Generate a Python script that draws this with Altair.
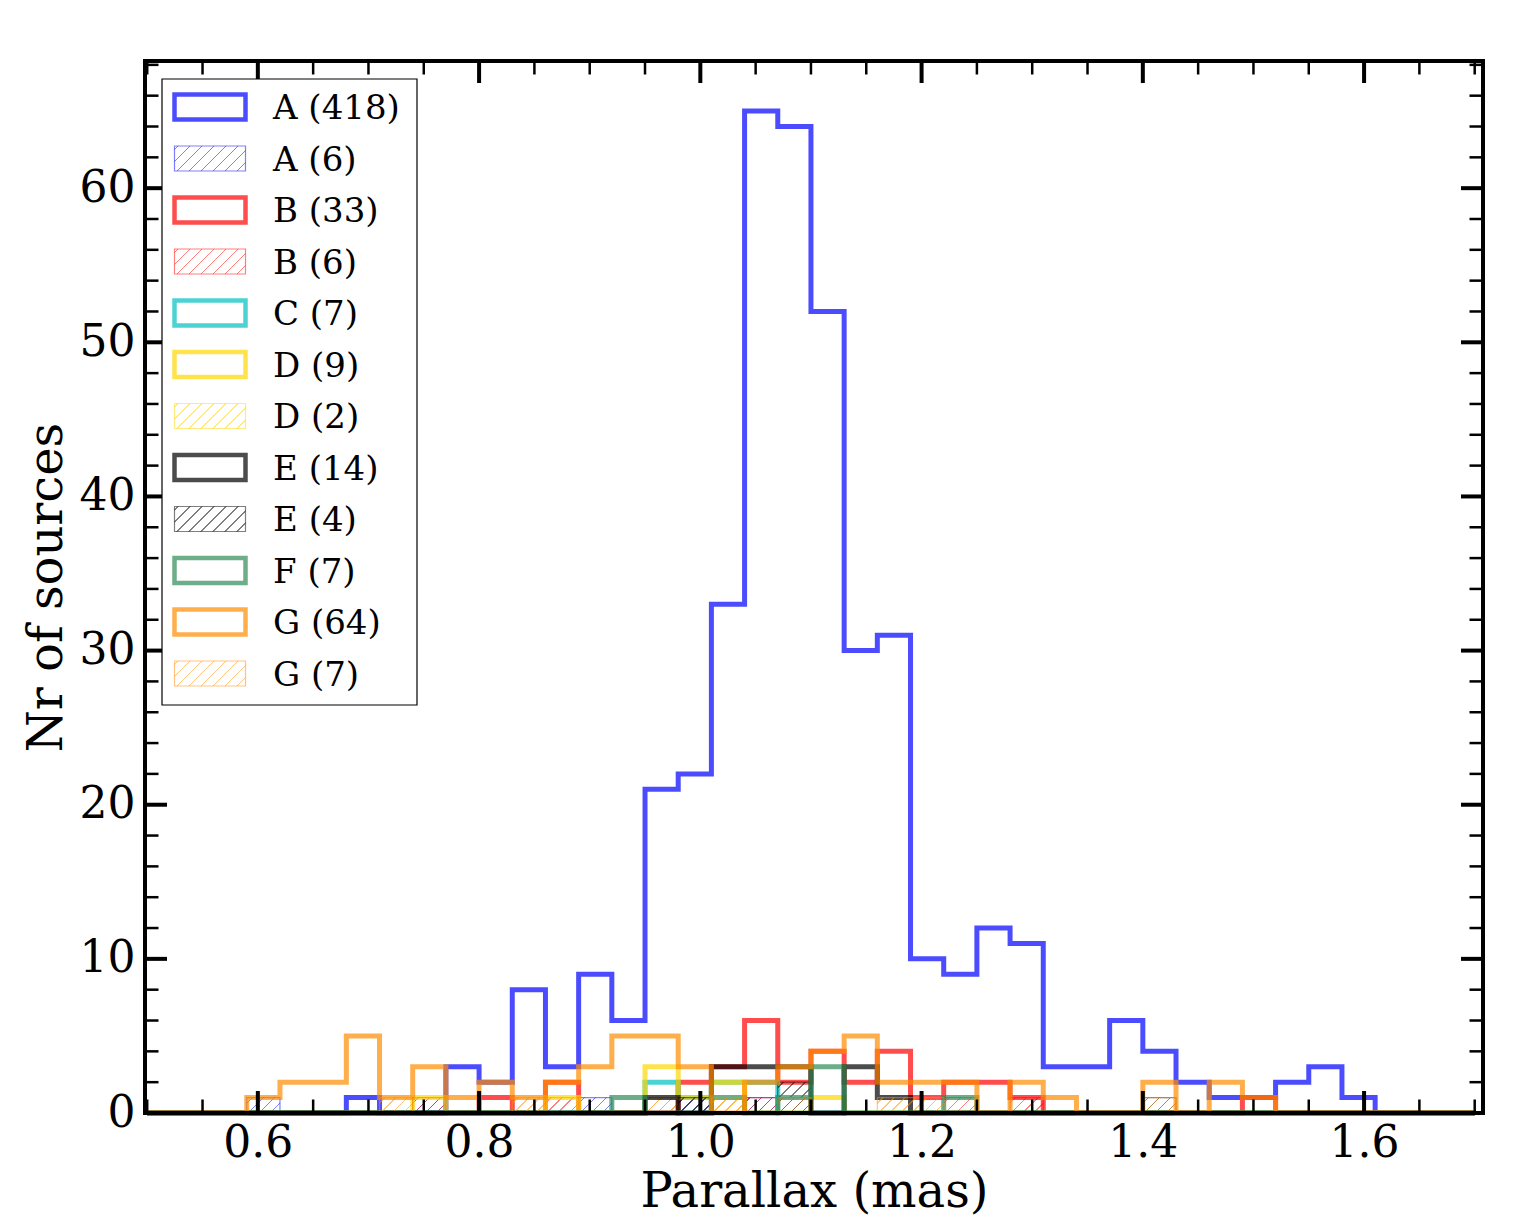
import altair as alt
import pandas as pd

# ---------------- data ----------------
BIN_START = 0.50
BIN_WIDTH = 0.03

# counts per bin k (bin k spans BIN_START + k*BIN_WIDTH .. + BIN_WIDTH), 40 bins
A_main = [0,0,0,0,0,0,1,0,0,3, 2,8,3,9,6,21,22,33,65,64, 52,30,31,10,9,12,11,3,3,6, 4,2,1,1,2,3,1,0,0,0]
A_hat  = [0,0,0,1,0,0,0,0,1,0, 0,0,0,1,0,0,1,0,1,1, 0,0,0,0,0,0,0,0,0,0, 0,0,0,0,0,0,0,0,0,0]
B_main = [0,0,0,0,0,0,0,0,0,0, 1,0,2,0,0,0,2,3,6,2, 4,2,4,1,2,2,1,0,0,0, 0,0,0,1,0,0,0,0,0,0]
B_hat  = [0,0,0,0,0,0,0,0,1,0, 0,0,1,0,0,1,0,0,1,0, 0,0,0,0,1,0,1,0,0,0, 0,0,0,0,0,0,0,0,0,0]
C_main = [0,0,0,0,0,0,0,0,0,0, 0,0,0,0,0,2,1,2,2,0, 0,0,0,0,0,0,0,0,0,0, 0,0,0,0,0,0,0,0,0,0]
D_main = [0,0,0,0,0,0,0,0,1,0, 0,0,1,0,0,3,1,2,0,0, 1,0,0,0,0,0,0,0,0,0, 0,0,0,0,0,0,0,0,0,0]
D_hat  = [0,0,0,0,0,0,0,0,0,0, 0,0,0,0,0,1,0,1,0,0, 0,0,0,0,0,0,0,0,0,0, 0,0,0,0,0,0,0,0,0,0]
E_main = [0,0,0,0,0,0,0,0,0,0, 0,0,0,0,0,1,0,3,3,3, 0,3,1,0,0,0,0,0,0,0, 0,0,0,0,0,0,0,0,0,0]
E_hat  = [0,0,0,0,0,0,0,0,0,0, 0,0,0,0,0,0,1,0,0,2, 0,0,0,0,0,0,0,0,0,0, 1,0,0,0,0,0,0,0,0,0]
F_main = [0,0,0,0,0,0,0,0,0,0, 0,0,0,0,1,0,0,1,0,1, 3,0,0,0,1,0,0,0,0,0, 0,0,0,0,0,0,0,0,0,0]
G_main = [0,0,0,1,2,2,5,1,3,1, 2,1,2,3,5,5,3,0,2,3, 4,5,2,2,2,0,2,1,0,0, 2,0,2,1,0,0,0,0,0,0]
G_hat  = [0,0,0,0,0,0,0,1,0,0, 0,1,0,0,0,0,0,1,0,1, 0,0,1,1,0,0,0,0,0,0, 1,0,0,0,0,0,0,0,0,0]

labels = ["A (418)", "A (6)", "B (33)", "B (6)", "C (7)", "D (9)", "D (2)",
          "E (14)", "E (4)", "F (7)", "G (64)", "G (7)"]
kinds = ["step", "hatch", "step", "hatch", "step", "step", "hatch",
         "step", "hatch", "step", "step", "hatch"]
rgb = {
    "A": (0, 0, 255), "B": (255, 0, 0), "C": (0, 191, 191), "D": (255, 215, 0),
    "E": (0, 0, 0), "F": (46, 139, 87), "G": (255, 140, 0),
}
counts_list = [A_main, A_hat, B_main, B_hat, C_main, D_main, D_hat,
               E_main, E_hat, F_main, G_main, G_hat]

x_major = [0.6, 0.8, 1.0, 1.2, 1.4, 1.6]
x_minor = [0.5, 0.55, 0.65, 0.7, 0.75, 0.85, 0.9, 0.95, 1.05, 1.1, 1.15,
           1.25, 1.3, 1.35, 1.45, 1.5, 1.55, 1.65, 1.7]
y_major = [0, 10, 20, 30, 40, 50, 60]
y_minor = [2, 4, 6, 8, 12, 14, 16, 18, 22, 24, 26, 28, 32, 34, 36, 38,
           42, 44, 46, 48, 52, 54, 56, 58, 62, 64, 66, 68]

# ---------------- layout / style ----------------
W, H = 1338, 1052
XMIN, XMAX = 0.498, 1.7075
YMAX = 68.25
SERIF = "DejaVu Serif"

xsc = alt.Scale(domain=[XMIN, XMAX], nice=False, zero=False)
ysc = alt.Scale(domain=[0, YMAX], nice=False, zero=False)
xaxis = alt.Axis(values=x_major, format=".1f", labelFont=SERIF, labelFontSize=44,
                 labelColor="black", domain=False, ticks=False, grid=False,
                 labelPadding=8, labelFlush=False, title="Parallax (mas)",
                 titleFont=SERIF, titleFontSize=48, titleFontWeight="normal",
                 titleColor="black", titlePadding=3)
yaxis = alt.Axis(values=y_major, format="d", labelFont=SERIF, labelFontSize=44,
                 labelColor="black", domain=False, ticks=False, grid=False,
                 labelPadding=10, title="Nr of sources", titleFont=SERIF,
                 titleFontSize=48, titleFontWeight="normal", titleColor="black",
                 titlePadding=8)


def X(f):
    return alt.X(f, type="quantitative", scale=xsc, axis=xaxis)


def Y(f):
    return alt.Y(f, type="quantitative", scale=ysc, axis=yaxis)


def rgba(c, a):
    return "rgba(%d,%d,%d,%.3f)" % (c[0], c[1], c[2], a)


def edges_of(counts):
    return [round(BIN_START + BIN_WIDTH * k, 6) for k in range(len(counts) + 1)]


def step_vertices(counts):
    e = edges_of(counts)
    pts = [(e[0], 0)]
    for k, c in enumerate(counts):
        pts.append((e[k], c))
        pts.append((e[k + 1], c))
    pts.append((e[-1], 0))
    out = []
    for p in pts:
        if out and out[-1][0] == p[0] and out[-1][1] == p[1]:
            continue
        out.append(p)
    res = [out[0]]
    for i in range(1, len(out) - 1):
        a, b, c = res[-1], out[i], out[i + 1]
        if (a[0] == b[0] == c[0]) or (a[1] == b[1] == c[1]):
            continue
        res.append(b)
    res.append(out[-1])
    return pd.DataFrame({"x": [p[0] for p in res], "y": [p[1] for p in res],
                         "i": list(range(len(res)))})


def hatch_cells(counts):
    e = edges_of(counts)
    rows = []
    for k, c in enumerate(counts):
        for j in range(c):
            rows.append({"x0": e[k], "x1": e[k + 1], "y0": j, "y1": j + 1})
    return pd.DataFrame(rows)


def hatch_gradient(w, h, period, color, lw=1.0, phase=0.5):
    k = (w + h) * w / (w * w + h * h)
    span = w + h
    half = lw * 1.4142 / 2.0
    clear = "rgba(255,255,255,0)"
    stops = [{"offset": 0.0, "color": clear}]
    c = period * phase
    while c < span:
        t0 = max(0.0, (c - half) / span)
        t1 = min(1.0, (c + half) / span)
        stops += [{"offset": t0, "color": clear}, {"offset": t0, "color": color},
                  {"offset": t1, "color": color}, {"offset": t1, "color": clear}]
        c += period
    stops.append({"offset": 1.0, "color": clear})
    return {"gradient": "linear", "x1": 0, "y1": 0, "x2": k, "y2": k * h / w,
            "stops": stops}


cell_w = BIN_WIDTH * W / (XMAX - XMIN)
cell_h = H / YMAX

layers = []
for lab, kind, counts in zip(labels, kinds, counts_list):
    col = rgb[lab[0]]
    if kind == "step":
        df = step_vertices(counts)
        layers.append(
            alt.Chart(df).mark_line(color=rgba(col, 1), strokeWidth=5, opacity=0.7,
                                    strokeJoin="miter", strokeCap="butt")
            .encode(x=X("x"), y=Y("y"), order=alt.Order("i:Q"))
        )
    else:
        cells = hatch_cells(counts)
        grad = hatch_gradient(cell_w, cell_h, cell_w / 3.0, rgba(col, 0.5))
        layers.append(
            alt.Chart(cells).mark_rect(fill=grad, strokeWidth=0)
            .encode(x=X("x0"), x2="x1", y=Y("y0"), y2="y1")
        )
        df = step_vertices(counts)
        layers.append(
            alt.Chart(df).mark_line(color=rgba(col, 1), strokeWidth=1.2, opacity=0.5,
                                    strokeJoin="miter", strokeCap="butt")
            .encode(x=X("x"), y=Y("y"), order=alt.Order("i:Q"))
        )

# ---------------- ticks (inward, all four sides) ----------------
one = pd.DataFrame({"v": [0]})
MAJ, MIN_ = 22, 13.5
for vals, L, sw in [(x_major, MAJ, 4), (x_minor, MIN_, 2.5)]:
    d = pd.DataFrame({"v": vals})
    layers.append(alt.Chart(d).mark_rule(color="black", strokeWidth=sw)
                  .encode(x=X("v"), y=alt.value(H), y2=alt.value(H - L)))
    layers.append(alt.Chart(d).mark_rule(color="black", strokeWidth=sw)
                  .encode(x=X("v"), y=alt.value(0), y2=alt.value(L)))
for vals, L, sw in [(y_major, MAJ, 4), (y_minor, MIN_, 2.5)]:
    d = pd.DataFrame({"v": vals})
    layers.append(alt.Chart(d).mark_rule(color="black", strokeWidth=sw)
                  .encode(y=Y("v"), x=alt.value(0), x2=alt.value(L)))
    layers.append(alt.Chart(d).mark_rule(color="black", strokeWidth=sw)
                  .encode(y=Y("v"), x=alt.value(W), x2=alt.value(W - L)))

# ---------------- legend ----------------
LX0, LX1, LY0, LY1 = 17, 272, 18, 644
ROW0, ROWSTEP = 46, 51.5
PX0, PX1, PH = 29.5, 100.5, 12.5
FS = 34
layers.append(alt.Chart(one).mark_rect(fill="white", stroke="black", strokeWidth=1.2)
              .encode(x=alt.value(LX0), x2=alt.value(LX1), y=alt.value(LY0), y2=alt.value(LY1)))
gw, gh = PX1 - PX0, 2 * PH
for i, (lab, kind) in enumerate(zip(labels, kinds)):
    col = rgb[lab[0]]
    yc = ROW0 + ROWSTEP * i
    if kind == "step":
        layers.append(alt.Chart(one).mark_rect(fill="white", fillOpacity=0, stroke=rgba(col, 1),
                                               strokeOpacity=0.7, strokeWidth=4.5, strokeJoin="miter")
                      .encode(x=alt.value(PX0), x2=alt.value(PX1),
                              y=alt.value(yc - PH), y2=alt.value(yc + PH)))
    else:
        g = hatch_gradient(gw, gh, 12.0, rgba(col, 0.5), phase=0.3)
        layers.append(alt.Chart(one).mark_rect(fill=g, stroke=rgba(col, 0.5), strokeWidth=1.2)
                      .encode(x=alt.value(PX0), x2=alt.value(PX1),
                              y=alt.value(yc - PH), y2=alt.value(yc + PH)))
    layers.append(alt.Chart(one).mark_text(text=lab, align="left", baseline="alphabetic",
                                           font=SERIF, fontSize=FS, color="black")
                  .encode(x=alt.value(128), y=alt.value(yc + 0.365 * FS)))

# ---------------- spines on top ----------------
layers.append(alt.Chart(one).mark_rect(fill="white", fillOpacity=0, stroke="black", strokeWidth=4)
              .encode(x=alt.value(0), x2=alt.value(W), y=alt.value(0), y2=alt.value(H)))

chart = alt.layer(*layers).properties(
    width=W, height=H,
    padding={"left": 137, "top": 53, "right": 18, "bottom": 105},
    autosize=alt.AutoSizeParams(type="none"),
).configure_view(stroke=None).configure(background="white")

chart.save("out.html", embed_options={"renderer": "svg", "actions": False})
